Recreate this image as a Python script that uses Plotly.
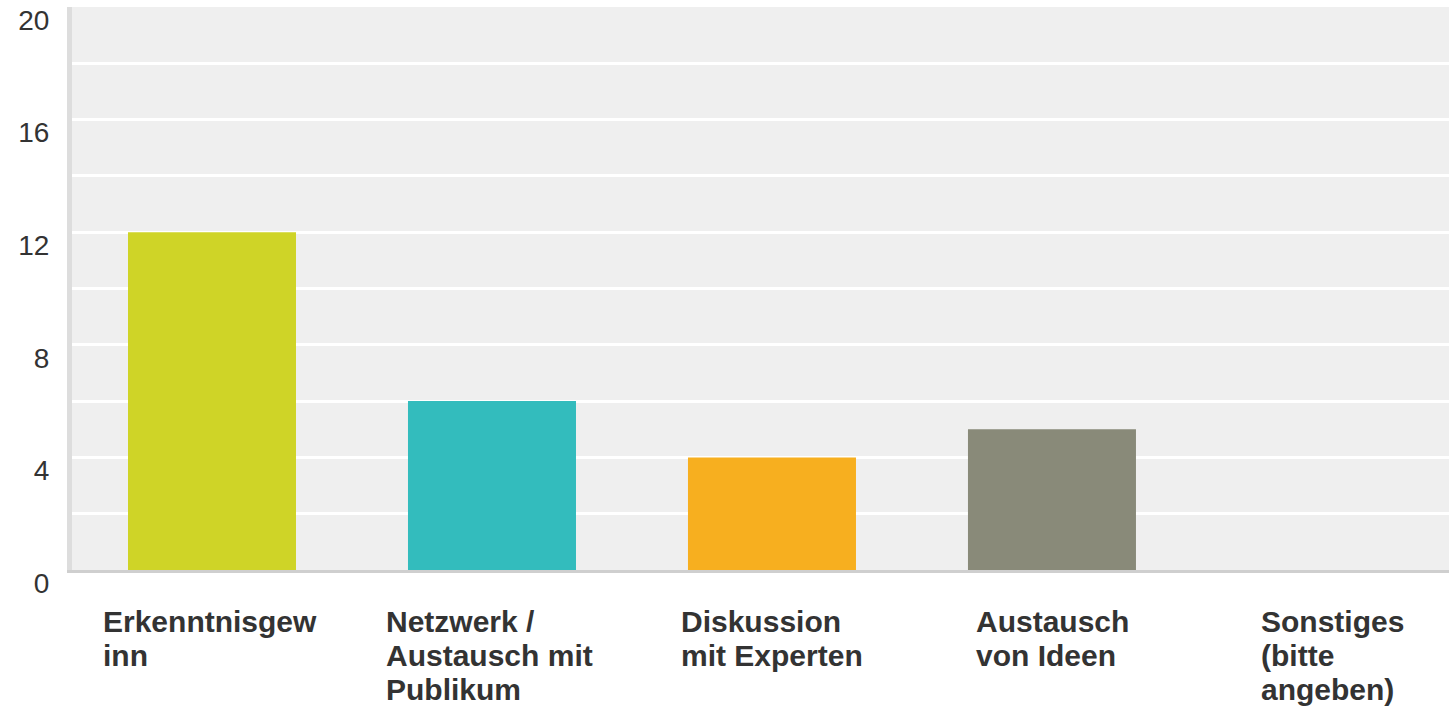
import plotly.graph_objects as go

categories = ["Erkenntnisgewinn", "Netzwerk / Austausch mit Publikum", "Diskussion mit Experten",
              "Austausch von Ideen", "Sonstiges (bitte angeben)"]
label_lines = [["Erkenntnisgew", "inn"],
               ["Netzwerk /", "Austausch mit", "Publikum"],
               ["Diskussion", "mit Experten"],
               ["Austausch", "von Ideen"],
               ["Sonstiges", "(bitte", "angeben)"]]
values = [12, 6, 4, 5, 0]
colors = ["#CFD427", "#33BCBD", "#F7AF1F", "#898A79", "#8E8E8E"]
y_ticks = [0, 4, 8, 12, 16, 20]

# layout settings for the category labels (pixels)
label_left_offsets = [-111, -108, -93, -78, -73]
first_line_center = 51
line_gap = 34

xpos = list(range(len(categories)))

fig = go.Figure()
fig.add_trace(go.Bar(x=xpos, y=values, marker=dict(color=colors, line=dict(width=0)),
                     width=0.6, hovertext=categories, showlegend=False))

for xi, lines, off in zip(xpos, label_lines, label_left_offsets):
    for k, line in enumerate(lines):
        fig.add_annotation(x=xi, xref="x", y=0, yref="paper", yanchor="middle", xanchor="left",
                           xshift=off, yshift=-(first_line_center + k * line_gap),
                           text="<b>" + line + "</b>", align="left", showarrow=False,
                           font=dict(family="Liberation Sans, Arial", size=30, color="#333333"))

fig.update_layout(
    width=1449, height=707,
    margin=dict(l=72, r=0, t=7, b=137),
    paper_bgcolor="white", plot_bgcolor="#EFEFEF",
    bargap=0.4,
    font=dict(family="Liberation Sans, Arial", color="#333333"),
)
fig.update_xaxes(range=[-0.5, 4.418], showticklabels=False, showgrid=False, zeroline=False,
                 showline=True, linecolor="#CFCFCF", linewidth=3, ticks="", automargin=False)
fig.update_yaxes(range=[0, 20], tickvals=y_ticks, showgrid=True, gridcolor="white", gridwidth=3,
                 minor=dict(dtick=2, showgrid=True, gridcolor="white", gridwidth=3),
                 zeroline=False, showline=True, linecolor="#DDDDDD", linewidth=5,
                 tickfont=dict(size=28, color="#333333", family="Liberation Sans, Arial"),
                 ticklabelstandoff=12, ticklabelshift=13, ticks="", automargin=False,
                 ticklabeloverflow="allow")

fig.write_html("out.html", config={"displayModeBar": False},
               post_script="document.body.style.margin='0px';")
